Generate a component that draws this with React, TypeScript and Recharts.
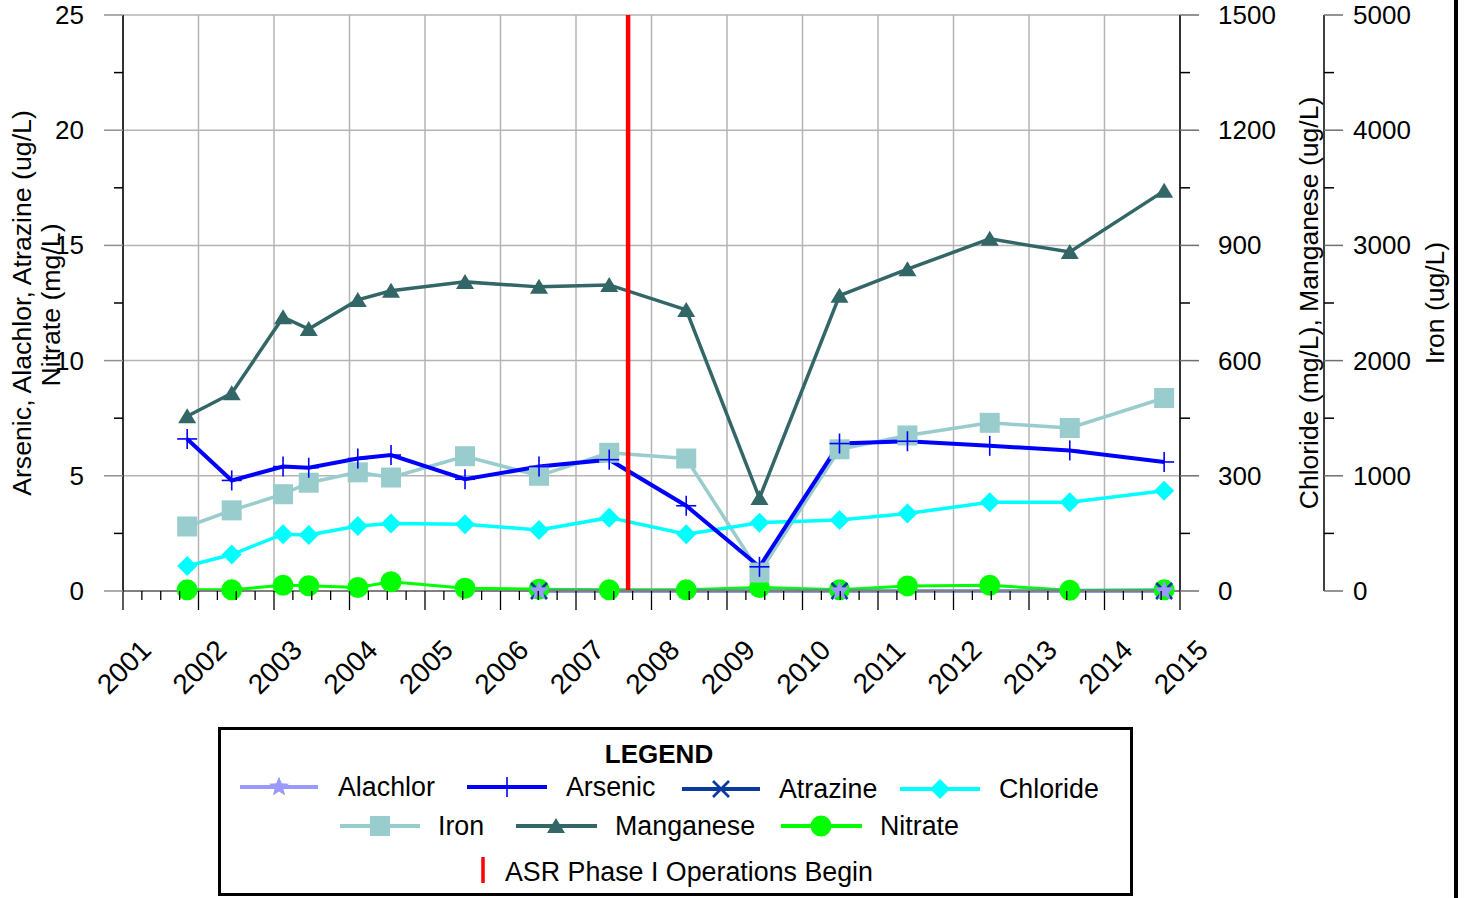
import React from 'react';
import { LineChart, Line, XAxis, YAxis, CartesianGrid, ReferenceLine, Legend } from 'recharts';

// sampling dates as decimal years
const sampleYears = [
  2001.85, 2002.44, 2003.12, 2003.46, 2004.11, 2004.55, 2005.53, 2006.51,
  2007.44, 2008.46, 2009.43, 2010.49, 2011.39, 2012.48, 2013.54, 2014.79,
];

// left axis (ug/L, nitrate mg/L)
const arsenic = [6.6, 4.8, 5.4, 5.35, 5.75, 5.9, 4.85, 5.4, 5.7, 3.7, 1.05, 6.4, 6.5, 6.3, 6.1, 5.6];
const nitrate = [0.05, 0.05, 0.25, 0.23, 0.15, 0.4, 0.12, 0.08, 0.05, 0.05, 0.15, 0.05, 0.22, 0.25, 0.03, 0.05];
const alachlor = [null, null, null, null, null, null, null, 0, null, null, null, 0, null, null, null, 0];
const atrazine = [null, null, null, null, null, null, null, 0, null, null, null, 0, null, null, null, 0];

// first right axis
const chloride = [65, 95, 148, 146, 169, 176, 174, 159, 191, 148, 178, 185, 202, 231, 231, 261];
const manganese = [455, 515, 713, 682, 758, 782, 805, 792, 797, 732, 242, 769, 838, 917, 883, 1042];

// second right axis
const iron = [560, 700, 840, 940, 1030, 985, 1170, 1000, 1200, 1150, 160, 1230, 1350, 1460, 1415, 1675];

const yearLabels = [2001, 2002, 2003, 2004, 2005, 2006, 2007, 2008, 2009, 2010, 2011, 2012, 2013, 2014, 2015];
const leftTicks = [0, 5, 10, 15, 20, 25];
const chlorideTicks = [0, 300, 600, 900, 1200, 1500];
const ironTicks = [0, 1000, 2000, 3000, 4000, 5000];
const asrStart = 2007.69;

const FONT = '"Liberation Sans", Arial, Helvetica, sans-serif';

const chartData = sampleYears.map((year, i) => ({
  year,
  arsenic: arsenic[i],
  nitrate: nitrate[i],
  alachlor: alachlor[i],
  atrazine: atrazine[i],
  chloride: chloride[i],
  manganese: manganese[i],
  iron: iron[i],
}));

// add a minor tick halfway between majors
const withHalves = (majors: number[]) => {
  const out: number[] = [];
  majors.forEach((m, i) => {
    out.push(m);
    if (i < majors.length - 1) out.push((m + majors[i + 1]) / 2);
  });
  return out;
};

const quarterTicks: number[] = [];
yearLabels.forEach((y, i) => {
  quarterTicks.push(y);
  if (i < yearLabels.length - 1) quarterTicks.push(y + 0.25, y + 0.5, y + 0.75);
});

type Shape = 'star' | 'plus' | 'cross' | 'diamond' | 'square' | 'triangle' | 'circle';

const starPath = (cx: number, cy: number, ro: number, ri: number) => {
  let d = '';
  for (let k = 0; k < 10; k++) {
    const r = k % 2 === 0 ? ro : ri;
    const a = -Math.PI / 2 + (k * Math.PI) / 5;
    d += `${k === 0 ? 'M' : 'L'}${cx + r * Math.cos(a)},${cy + r * Math.sin(a)}`;
  }
  return d + 'Z';
};

const Marker = ({ shape, cx, cy, color }: { shape: Shape; cx: number; cy: number; color: string }) => {
  switch (shape) {
    case 'star':
      return <path d={starPath(cx, cy, 10.5, 4.5)} fill={color} />;
    case 'plus':
      return (
        <g stroke={color} strokeWidth={1.6}>
          <line x1={cx - 10} x2={cx + 10} y1={cy} y2={cy} />
          <line x1={cx} x2={cx} y1={cy - 10} y2={cy + 10} />
        </g>
      );
    case 'cross':
      return (
        <g stroke={color} strokeWidth={2.6}>
          <line x1={cx - 8} x2={cx + 8} y1={cy - 8} y2={cy + 8} />
          <line x1={cx - 8} x2={cx + 8} y1={cy + 8} y2={cy - 8} />
        </g>
      );
    case 'diamond':
      return <path d={`M${cx},${cy - 10}L${cx + 10},${cy}L${cx},${cy + 10}L${cx - 10},${cy}Z`} fill={color} />;
    case 'square':
      return <rect x={cx - 10} y={cy - 10} width={20} height={20} fill={color} />;
    case 'triangle':
      return <path d={`M${cx},${cy - 8}L${cx + 9},${cy + 7}L${cx - 9},${cy + 7}Z`} fill={color} />;
    default:
      return <circle cx={cx} cy={cy} r={10.5} fill={color} />;
  }
};

const series: { key: string; name: string; color: string; shape: Shape; axis: string; width: number }[] = [
  { key: 'nitrate', name: 'Nitrate', color: '#00FF00', shape: 'circle', axis: 'left', width: 3 },
  { key: 'manganese', name: 'Manganese', color: '#336666', shape: 'triangle', axis: 'chloride', width: 3.5 },
  { key: 'iron', name: 'Iron', color: '#99CCCC', shape: 'square', axis: 'iron', width: 3.5 },
  { key: 'chloride', name: 'Chloride', color: '#00FFFF', shape: 'diamond', axis: 'chloride', width: 3.5 },
  { key: 'atrazine', name: 'Atrazine', color: '#0A3A9E', shape: 'cross', axis: 'left', width: 3 },
  { key: 'arsenic', name: 'Arsenic', color: '#0000FF', shape: 'plus', axis: 'left', width: 4 },
  { key: 'alachlor', name: 'Alachlor', color: '#9999FF', shape: 'star', axis: 'left', width: 3 },
];

const textStyle = { fontFamily: FONT, fontSize: 26, fill: '#000' };

const XTick = (props: any) => {
  const { x, y, payload } = props;
  const major = Number.isInteger(payload.value);
  const ly = y + 57;
  return (
    <g>
      <line x1={x} x2={x} y1={y - 19} y2={major ? y : y - 10} stroke="#000" strokeWidth={1.3} />
      {major && (
        <text
          x={x + 1}
          y={ly}
          textAnchor="middle"
          dominantBaseline="central"
          transform={`rotate(-45 ${x + 1} ${ly})`}
          style={{ ...textStyle, fontSize: 28 }}
        >
          {payload.value}
        </text>
      )}
    </g>
  );
};

const LeftTick = (props: any) => {
  const { x, y, payload } = props;
  const major = payload.value % 5 === 0;
  return (
    <g>
      <line x1={major ? x + 20 : x + 30} x2={x + 39} y1={y} y2={y} stroke={major ? '#909090' : '#000'} strokeWidth={1.5} />
      {major && (
        <text x={x} y={y} textAnchor="end" dominantBaseline="central" style={textStyle}>
          {payload.value}
        </text>
      )}
    </g>
  );
};

const makeRightTick = (step: number, margin: number) => (props: any) => {
  const { x, y, payload } = props;
  const major = payload.value % step === 0;
  const x0 = x - margin - 19;
  return (
    <g>
      <line x1={x0} x2={major ? x0 + 19 : x0 + 10} y1={y} y2={y} stroke={major ? '#707070' : '#000'} strokeWidth={1.5} />
      {major && (
        <text x={x} y={y} textAnchor="start" dominantBaseline="central" style={textStyle}>
          {payload.value}
        </text>
      )}
    </g>
  );
};

const vTitle = (x: number, y: number, label: string, size = 26.7) => (
  <text key={label} x={x} y={y} textAnchor="middle" transform={`rotate(-90 ${x} ${y})`} style={{ ...textStyle, fontSize: size }}>
    {label}
  </text>
);

const LegendBox = () => {
  const rows: { key: string; cx: number; x1: number; x2: number; tx: number; cy: number }[] = [
    { key: 'alachlor', x1: 22, x2: 100, cx: 61, tx: 120, cy: 60 },
    { key: 'arsenic', x1: 249, x2: 329, cx: 289, tx: 348, cy: 60 },
    { key: 'atrazine', x1: 464, x2: 542, cx: 503, tx: 561, cy: 62 },
    { key: 'chloride', x1: 682, x2: 762, cx: 722, tx: 781, cy: 62 },
    { key: 'iron', x1: 122, x2: 202, cx: 162, tx: 220, cy: 99 },
    { key: 'manganese', x1: 298, x2: 379, cx: 338, tx: 397, cy: 99 },
    { key: 'nitrate', x1: 563, x2: 644, cx: 603, tx: 662, cy: 99 },
  ];
  const legendText = { ...textStyle, fontSize: 26.8 };
  return (
    <svg width={915} height={169} style={{ display: 'block' }}>
      <rect x={1.5} y={1.5} width={912} height={166} fill="#fff" stroke="#000" strokeWidth={3} />
      <text x={441} y={36} textAnchor="middle" style={{ ...textStyle, fontWeight: 'bold' }}>
        LEGEND
      </text>
      {rows.map((r) => {
        const s = series.find((it) => it.key === r.key)!;
        return (
          <g key={r.key}>
            <line x1={r.x1} x2={r.x2} y1={r.cy} y2={r.cy} stroke={s.color} strokeWidth={4} />
            <Marker shape={s.shape} cx={r.cx} cy={r.cy} color={s.color} />
            <text x={r.tx} y={r.cy} dominantBaseline="central" style={legendText}>
              {s.name}
            </text>
          </g>
        );
      })}
      <line x1={265} x2={265} y1={130} y2={156} stroke="#FF0000" strokeWidth={3.5} />
      <text x={287} y={145} dominantBaseline="central" style={legendText}>
        ASR Phase I Operations Begin
      </text>
    </svg>
  );
};

const App: React.FC = () => {
  return (
    <div style={{ position: 'absolute', left: 0, top: 0, width: 1464, height: 898, background: '#fff' }}>
      <LineChart width={1464} height={898} data={chartData} margin={{ top: 15, right: 30, left: 0, bottom: 207 }}>
        <CartesianGrid
          yAxisId="left"
          stroke="#B4B4B4"
          strokeWidth={1.5}
          horizontalValues={leftTicks}
          verticalValues={yearLabels}
        />
        <XAxis
          dataKey="year"
          type="number"
          domain={[2001, 2015]}
          ticks={quarterTicks}
          interval={0}
          height={100}
          tickSize={19}
          tickMargin={0}
          tickLine={false}
          axisLine={{ stroke: '#808080', strokeWidth: 2 }}
          tick={<XTick />}
        />
        <YAxis
          yAxisId="left"
          orientation="left"
          type="number"
          domain={[0, 25]}
          ticks={withHalves(leftTicks)}
          interval={0}
          width={123}
          tickSize={19}
          tickMargin={20}
          tickLine={false}
          axisLine={{ stroke: '#000', strokeWidth: 1.5 }}
          tick={<LeftTick />}
          label={() => (
            <g>
              {vTitle(31, 303, 'Arsenic, Alachlor, Atrazine (ug/L)')}
              {vTitle(60, 305, 'Nitrate (mg/L)')}
            </g>
          )}
        />
        <YAxis
          yAxisId="chloride"
          orientation="right"
          type="number"
          domain={[0, 1500]}
          ticks={withHalves(chlorideTicks)}
          interval={0}
          width={144}
          tickSize={19}
          tickMargin={19}
          tickLine={false}
          axisLine={{ stroke: '#000', strokeWidth: 1.5 }}
          tick={makeRightTick(300, 19)}
          label={() => vTitle(1318, 303, 'Chloride (mg/L), Manganese (ug/L)', 26.5)}
        />
        <YAxis
          yAxisId="iron"
          orientation="right"
          type="number"
          domain={[0, 5000]}
          ticks={withHalves(ironTicks)}
          interval={0}
          width={110}
          tickSize={19}
          tickMargin={10}
          tickLine={false}
          axisLine={{ stroke: '#000', strokeWidth: 1.5 }}
          tick={makeRightTick(1000, 10)}
          label={() => vTitle(1444, 303, 'Iron (ug/L)', 26.5)}
        />
        {series.map((s) => (
          <Line
            key={s.key}
            yAxisId={s.axis}
            dataKey={s.key}
            name={s.name}
            type="linear"
            stroke={s.color}
            strokeWidth={s.width}
            connectNulls
            isAnimationActive={false}
            activeDot={false}
            dot={(p: any) =>
              p.value == null || p.cy == null ? (
                <g key={`${s.key}-${p.index}`} />
              ) : (
                <Marker key={`${s.key}-${p.index}`} shape={s.shape} cx={p.cx} cy={p.cy} color={s.color} />
              )
            }
          />
        ))}
        <ReferenceLine yAxisId="left" x={asrStart} stroke="#FF0000" strokeWidth={4.5} />
        <Legend
          layout="vertical"
          align="center"
          verticalAlign="middle"
          wrapperStyle={{ position: 'absolute', left: 218, top: 727, width: 915, height: 169 }}
          content={() => <LegendBox />}
        />
      </LineChart>
      <div style={{ position: 'absolute', left: 1454, top: 0, width: 4, height: 898, background: '#000' }} />
    </div>
  );
};

export default App;
